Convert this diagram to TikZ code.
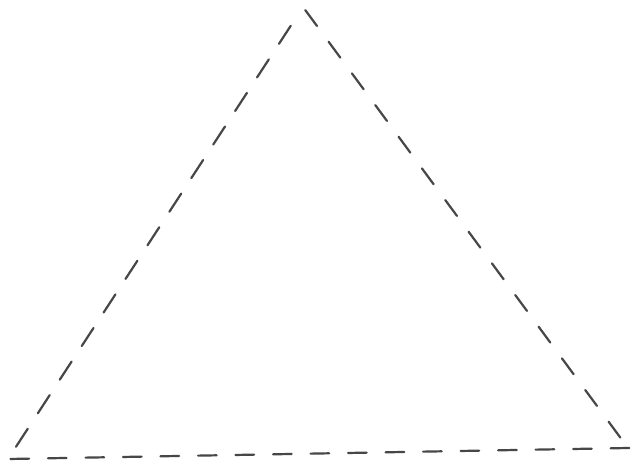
\documentclass[tikz,border=0pt]{standalone}
\usetikzlibrary{calc}
\begin{document}
\begin{tikzpicture}[x=1pt,y=-1pt,
  dashseg/.style={draw=black!72, line width=2.2pt, line cap=round}]
\useasboundingbox[fill=white] (0,0) rectangle (631,469);
\coordinate (A) at (303,7);
\coordinate (B) at (8,459);
\coordinate (C) at (628,448);
% left side B -> A
\foreach \i in {0,...,12} {
  \pgfmathsetmacro{\ta}{0.027+\i*0.0743}
  \pgfmathsetmacro{\tb}{\ta+0.04}
  \draw[dashseg] ($(B)!\ta!(A)$) -- ($(B)!\tb!(A)$);
}
% right side A -> C
\foreach \i in {0,...,13} {
  \pgfmathsetmacro{\ta}{0.007+\i*0.0718}
  \pgfmathsetmacro{\tb}{\ta+0.036}
  \draw[dashseg] ($(A)!\ta!(C)$) -- ($(A)!\tb!(C)$);
}
% bottom side B -> C
\foreach \i in {0,...,16} {
  \pgfmathsetmacro{\ta}{0.004+\i*0.0605}
  \pgfmathsetmacro{\tb}{\ta+0.03}
  \draw[dashseg] ($(B)!\ta!(C)$) -- ($(B)!\tb!(C)$);
}
\end{tikzpicture}
\end{document}
